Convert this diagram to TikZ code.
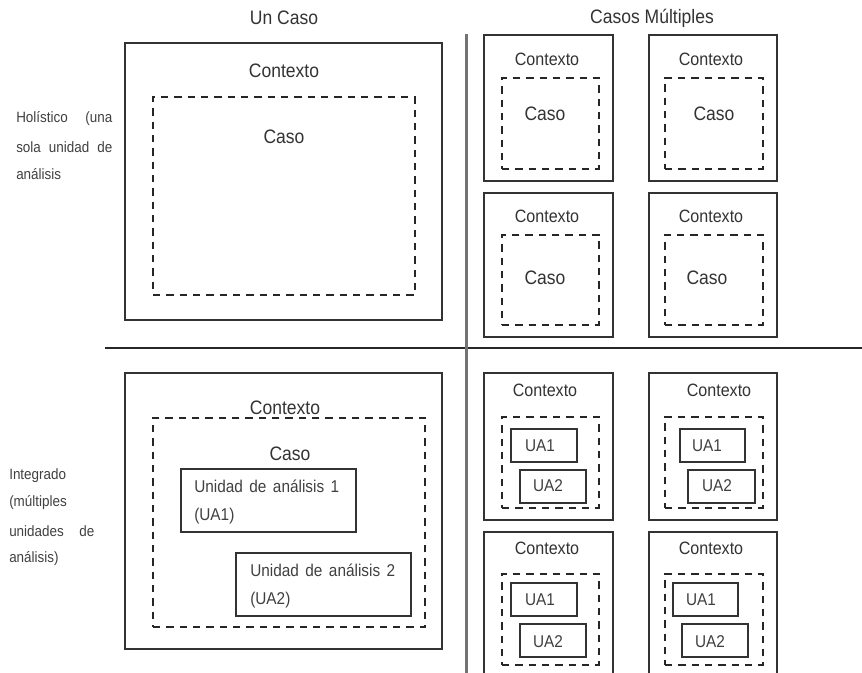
\documentclass[tikz,border=0pt]{standalone}
\usepackage{fontspec}
\setmainfont[FakeStretch=0.9]{Liberation Sans}
\usetikzlibrary{fit}
\begin{document}
\begin{tikzpicture}[x=0.75pt,y=-0.75pt,
  box/.style={draw=black!80, line width=1.2pt, inner sep=0pt},
  dbox/.style={draw=black!85, line width=1.2pt, dash pattern=on 5.5pt off 4.5pt, inner sep=0pt},
  big/.style={text=black!80, inner sep=0pt, font=\fontsize{14.6}{17}\selectfont},
  mid/.style={text=black!80, inner sep=0pt, font=\fontsize{13.4}{16}\selectfont},
  ua/.style={text=black!75, inner sep=0pt, font=\fontsize{12.8}{15}\selectfont},
  note/.style={text=black!75, inner sep=0pt, anchor=west, font=\fontsize{11.2}{13}\selectfont},
  unote/.style={text=black!75, inner sep=0pt, anchor=west, font=\fontsize{12.8}{15}\selectfont}]
\fill[white] (0,0) rectangle (862,672);
\clip (0,0) rectangle (862,672);

% column headings
\node[big] (hUn) at (284,18) {Un Caso};
\node[big] (hMul) at (652,18) {Casos Múltiples};

% dividing lines
\coordinate (hl) at (105,348);
\coordinate (hr) at (862,348);
\coordinate (vt) at (466.5,34);
\coordinate (vb) at (466.5,680);
\draw[black!85, line width=1.2pt] (hl) -- (hr);
\draw[black!55, line width=1.6pt] (vt) -- (vb);

% row headings
\node[note] (r1a) at (16,119) {\hbox to 72pt{Holístico\hfill(una}};
\node[note] (r1b) at (16,147) {\hbox to 72pt{sola\hfill unidad\hfill de}};
\node[note] (r1c) at (16,174) {análisis};
\node[note] (r2a) at (9,476) {Integrado};
\node[note] (r2b) at (9,503) {(múltiples};
\node[note] (r2c) at (9,531) {\hbox to 63.75pt{unidades\hfill de}};
\node[note] (r2d) at (9,559) {análisis)};

% holistic, single case
\node[box, fit={(125,43) (442,320)}] (A) {};
\node[big] (Actx) at (284,71) {Contexto};
\node[dbox, fit={(153,97) (415,295)}] (Acase) {};
\node[big] (Acaso) at (284,137) {Caso};

% holistic, multiple cases
\node[box, fit={(484,35) (613,181)}] (B1) {};
\node[box, fit={(649,35) (777,181)}] (B2) {};
\node[box, fit={(484,193) (613,337)}] (B3) {};
\node[box, fit={(649,193) (777,337)}] (B4) {};
\node[mid] at (547,59) {Contexto};
\node[mid] at (711,59) {Contexto};
\node[mid] at (547,216) {Contexto};
\node[mid] at (711,216) {Contexto};
\node[dbox, fit={(502,78) (599,169)}] (B1c) {};
\node[dbox, fit={(665,78) (763,169)}] (B2c) {};
\node[dbox, fit={(502,235) (599,325)}] (B3c) {};
\node[dbox, fit={(665,235) (763,325)}] (B4c) {};
\node[big] at (545,114) {Caso};
\node[big] at (714,114) {Caso};
\node[big] at (545,278) {Caso};
\node[big] at (707,278) {Caso};

% embedded, single case
\node[box, fit={(125,373) (442,649)}] (C) {};
\node[big] (Cctx) at (285,408) {Contexto};
\node[dbox, fit={(153,418) (425,627)}] (Ccase) {};
\node[big] (Ccaso) at (290,454) {Caso};
\node[box, fit={(181,469) (356,532)}] (Cu1) {};
\node[unote] at (194,486) {\hbox to 108.75pt{Unidad\hfill de\hfill análisis\hfill 1}};
\node[unote] at (194,516) {(UA1)};
\node[box, fit={(236,553) (411,616)}] (Cu2) {};
\node[unote] at (250,570) {\hbox to 108.75pt{Unidad\hfill de\hfill análisis\hfill 2}};
\node[unote] at (250,600) {(UA2)};

% embedded, multiple cases
\node[box, fit={(484,373) (613,520)}] (D1) {};
\node[box, fit={(649,373) (777,520)}] (D2) {};
\node[box, fit={(484,532) (613,700)}] (D3) {};
\node[box, fit={(649,532) (777,700)}] (D4) {};
\node[mid] at (545,390) {Contexto};
\node[mid] at (719,390) {Contexto};
\node[mid] at (547,548) {Contexto};
\node[mid] at (711,548) {Contexto};
\node[dbox, fit={(502,417) (599,508)}] (D1c) {};
\node[dbox, fit={(665,417) (763,508)}] (D2c) {};
\node[dbox, fit={(502,574) (599,665)}] (D3c) {};
\node[dbox, fit={(665,574) (763,665)}] (D4c) {};
\node[box, fit={(511,429) (577,462)}] (D1u1) {};
\node[box, fit={(520,470) (586,503)}] (D1u2) {};
\node[box, fit={(680,429) (745,462)}] (D2u1) {};
\node[box, fit={(688,470) (755,503)}] (D2u2) {};
\node[box, fit={(511,583) (577,616)}] (D3u1) {};
\node[box, fit={(520,624) (586,657)}] (D3u2) {};
\node[box, fit={(673,583) (738,616)}] (D4u1) {};
\node[box, fit={(682,624) (748,657)}] (D4u2) {};
\node[ua] at (540,446) {UA1};
\node[ua] at (548,486) {UA2};
\node[ua] at (707,446) {UA1};
\node[ua] at (717,486) {UA2};
\node[ua] at (540,600) {UA1};
\node[ua] at (548,642) {UA2};
\node[ua] at (701,600) {UA1};
\node[ua] at (710,642) {UA2};
\end{tikzpicture}
\end{document}
